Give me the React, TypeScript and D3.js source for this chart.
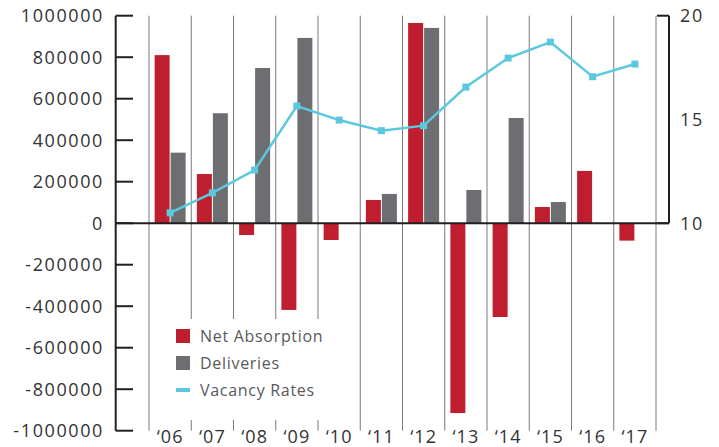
import React from "react";
import * as d3 from "d3";

const years = ["'06", "'07", "'08", "'09", "'10", "'11", "'12", "'13", "'14", "'15", "'16", "'17"];
const netAbsorption = [810000, 237000, -57000, -418000, -81000, 112000, 965000, -915000, -452000, 78000, 252000, -84000];
const deliveries = [340000, 530000, 748000, 893000, 0, 141000, 941000, 160000, 507000, 102000, 0, 0];
const vacancyRates = [10.5, 11.46, 12.56, 15.65, 14.97, 14.46, 14.7, 16.56, 17.96, 18.73, 17.06, 17.67];
const leftTicks = [1000000, 800000, 600000, 400000, 200000, 0, -200000, -400000, -600000, -800000, -1000000];
const rightTicks = [20, 15, 10];
const legendItems = ["Net Absorption", "Deliveries", "Vacancy Rates"];

const W = 719, H = 447;
const RED = "#be1e2d", GREY = "#6d6e71", CYAN = "#5bc9dd", DARK = "#231f20";
const FONT = "'Open Sans', sans-serif";

export default function App() {
  const x = d3.scaleBand<string>().domain(years).range([149, 656]).padding(0);
  const y = d3.scaleLinear().domain([-1000000, 1000000]).range([430.7, 15.7]);
  const yR = d3.scaleLinear().domain([10, 20]).range([223.2, 15.7]);
  const axisX = 115.7, rightX = 669;
  const bw = 15;
  const center = (yr: string) => (x(yr) as number) + x.bandwidth() / 2;
  const line = d3.line<number>().x((_, i) => center(years[i])).y((d) => yR(d));
  const gridXs = [...years.map((yr) => x(yr) as number), x.range()[1]];

  return (
    <svg width={W} height={H} style={{ position: "absolute", left: 0, top: 0, background: "#fff" }}>
      {gridXs.map((gx, i) => (
        <line key={"g" + i} x1={gx} x2={gx} y1={y(1000000)} y2={y(-1000000)} stroke="#7a7a7a" strokeWidth={1} />
      ))}
      {years.map((yr, i) => {
        const c = center(yr);
        const v = netAbsorption[i];
        const d = deliveries[i];
        return (
          <g key={"b" + yr}>
            <rect x={c - bw - 0.5} width={bw} y={Math.min(y(v), y(0))} height={Math.abs(y(v) - y(0))} fill={RED} />
            {d !== 0 && (
              <rect x={c + 0.5} width={bw} y={Math.min(y(d), y(0))} height={Math.abs(y(d) - y(0))} fill={GREY} />
            )}
          </g>
        );
      })}
      <line x1={axisX} x2={rightX} y1={y(0)} y2={y(0)} stroke={DARK} strokeWidth={2} />
      <line x1={axisX} x2={axisX} y1={y(1000000)} y2={y(-1000000)} stroke={DARK} strokeWidth={2} />
      {leftTicks.map((t) => (
        <g key={"lt" + t}>
          <line x1={axisX} x2={133} y1={y(t)} y2={y(t)} stroke={DARK} strokeWidth={2} />
          <text x={104} y={y(t)} dy="0.36em" textAnchor="end" fontFamily={FONT} fontWeight={400} fontSize={18} letterSpacing={1.6} fill="#333">
            {String(t)}
          </text>
        </g>
      ))}
      <line x1={rightX} x2={rightX} y1={yR(20)} y2={yR(10)} stroke={DARK} strokeWidth={2} />
      {rightTicks.filter((t) => t !== 15).map((t) => (
        <line key={"rt" + t} x1={657} x2={rightX} y1={yR(t)} y2={yR(t)} stroke={DARK} strokeWidth={2} />
      ))}
      {rightTicks.map((t) => (
        <text key={"rl" + t} x={680} y={yR(t)} dy="0.36em" fontFamily={FONT} fontWeight={400} fontSize={18} letterSpacing={1.8} fill="#333">
          {t}
        </text>
      ))}
      <path d={line(vacancyRates) || ""} fill="none" stroke={CYAN} strokeWidth={2.5} />
      {vacancyRates.map((v, i) => (
        <rect key={"m" + i} x={center(years[i]) - 3.5} y={yR(v) - 3.5} width={7} height={7} fill={CYAN} />
      ))}
      {years.map((yr) => (
        <text key={"xl" + yr} x={center(yr)} y={443} textAnchor="middle" fontFamily={FONT} fontWeight={400} fontSize={18} letterSpacing={1} fill="#333">
          {yr.replace("'", "\u2018")}
        </text>
      ))}
      <rect x={152} y={319} width={204} height={101} fill="#fff" />
      {legendItems.map((name, i) => {
        const cy = 336 + i * 27;
        return (
          <g key={"lg" + i}>
            {i < 2 ? (
              <rect x={176} y={cy - 7} width={14} height={14} fill={i === 0 ? RED : GREY} />
            ) : (
              <rect x={176} y={cy - 2} width={14} height={4} fill={CYAN} />
            )}
            <text x={200} y={cy} dy="0.36em" fontFamily={FONT} fontWeight={400} fontSize={16} letterSpacing={0.7} fill="#58595b">
              {name}
            </text>
          </g>
        );
      })}
    </svg>
  );
}
